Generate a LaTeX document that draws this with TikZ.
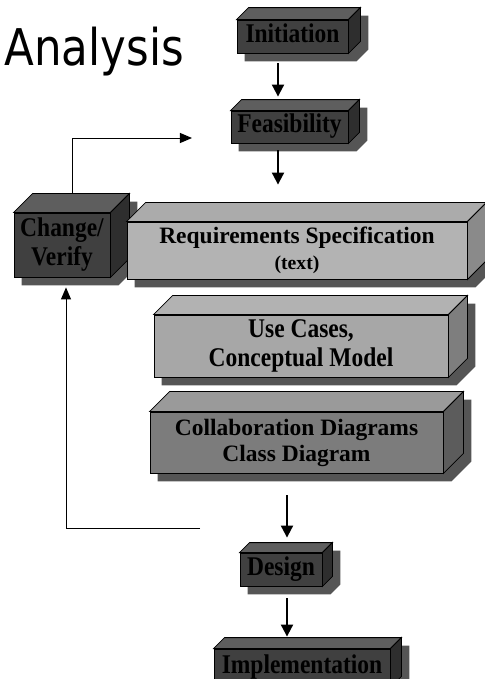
\documentclass[tikz,border=0pt]{standalone}
\usepackage{fontspec}
\setmainfont{Liberation Serif}
\newfontfamily\titlefont{DejaVu Sans}
\usepackage{tikz}
\usetikzlibrary{arrows.meta,backgrounds}
\definecolor{darkfront}{HTML}{404040}
\definecolor{darktop}{HTML}{5E5E5E}
\definecolor{darkside}{HTML}{2E2E2E}
\definecolor{reqfront}{HTML}{B3B3B3}
\definecolor{reqtop}{HTML}{ABABAB}
\definecolor{reqside}{HTML}{8A8A8A}
\definecolor{ucfront}{HTML}{A7A7A7}
\definecolor{uctop}{HTML}{B2B2B2}
\definecolor{ucside}{HTML}{7E7E7E}
\definecolor{colfront}{HTML}{7C7C7C}
\definecolor{coltop}{HTML}{9A9A9A}
\definecolor{colside}{HTML}{5C5C5C}
\definecolor{shadowgray}{HTML}{555555}
\newcommand{\boxfont}{\bfseries\fontsize{16.7}{18.5}\selectfont}
\newcommand{\tall}[1]{\scalebox{1}[1.15]{\begin{tabular}{@{}c@{}}#1\end{tabular}}}
\newcommand{\solidbox}[4]{%
  \filldraw[fill=#3] (#1.north west) -- ++(#2,-#2) -- ([shift={(#2,-#2)}]#1.north east) -- (#1.north east) -- cycle;
  \filldraw[fill=#4] (#1.north east) -- ++(#2,-#2) -- ([shift={(#2,-#2)}]#1.south east) -- (#1.south east) -- cycle;
  \begin{scope}[on background layer]
    \fill[shadowgray] ([shift={(8,8)}]#1.north west) -- ++(#2,-#2) -- ([shift={(#2+8,8-#2)}]#1.north east)
      -- ([shift={(#2+8,8-#2)}]#1.south east) -- ([shift={(8,8)}]#1.south east) -- ([shift={(8,8)}]#1.south west) -- cycle;
  \end{scope}}
\tikzset{
  stage/.style={draw, line width=0.6pt, inner sep=0pt, align=center, font=\boxfont, text=black},
  flow/.style={-{Triangle[length=0.3cm,width=0.3cm]}, line width=1.4pt},
  loopback/.style={-{Triangle[length=0.3cm,width=0.25cm]}, line width=0.7pt}
}
\begin{document}
\begin{tikzpicture}[x=0.025cm,y=-0.025cm, line width=0.6pt]
    \useasboundingbox (0,0) rectangle (485,679);
    \clip (0,0) rectangle (485,679);
    \node[anchor=base west, inner sep=0pt] (title) at (4,65) {\titlefont\fontsize{36}{40}\selectfont\scalebox{0.86}[1]{Analysis}};
    % blocks
    \node[stage, fill=darkfront, minimum width=2.775cm, minimum height=0.825cm] (ini) at (292.5,36.5) {\tall{Initiation}};
    \solidbox{ini}{12}{darktop}{darkside}
    \node[stage, fill=darkfront, minimum width=2.925cm, minimum height=0.8cm] (feas) at (289.5,127) {\tall{Feasibility}};
    \solidbox{feas}{11}{darktop}{darkside}
    \node[stage, fill=darkfront, minimum width=2.4cm, minimum height=1.6cm] (chg) at (62,245) {\tall{Change/\\Verify}};
    \solidbox{chg}{19}{darktop}{darkside}
    \node[stage, fill=reqfront, minimum width=8.5cm, minimum height=1.425cm] (req) at (297,250.5) {Requirements Specification\\{\fontsize{14}{16}\selectfont(text)}};
    \solidbox{req}{19}{reqtop}{reqside}
    \node[stage, fill=ucfront, minimum width=7.35cm, minimum height=1.55cm] (uc) at (301,346) {\tall{Use Cases,\\Conceptual Model}};
    \solidbox{uc}{19}{uctop}{ucside}
    \node[stage, fill=colfront, minimum width=7.325cm, minimum height=1.525cm] (collab) at (296.5,442.5) {Collaboration Diagrams\\Class Diagram};
    \solidbox{collab}{20}{coltop}{colside}
    \node[stage, fill=darkfront, minimum width=2.05cm, minimum height=0.825cm] (des) at (281,569.5) {\tall{Design}};
    \solidbox{des}{10}{darktop}{darkside}
    \node[stage, fill=darkfront, minimum width=4.4cm, minimum height=0.95cm] (impl) at (302,668) {\tall{Implementation}};
    \solidbox{impl}{11}{darktop}{darkside}
    % flow arrows
    \draw[flow] ([shift={(-14.5,10)}]ini.south) -- ([shift={(-11.5,-14)}]feas.north);
    \draw[flow] ([shift={(-11.5,7)}]feas.south) -- ([shift={(-19,-37)}]req.north);
    \draw[flow] ([shift={(-9.5,22)}]collab.south) -- ([shift={(6,-15)}]des.north);
    \draw[flow] ([shift={(6,12)}]des.south) -- ([shift={(-15,-12)}]impl.north);
    % feedback loop
    \coordinate (fbtop) at (192,138);
    \coordinate (fbbot) at (200,528);
    \draw[loopback] ([shift={(10,-20)}]chg.north) |- (fbtop);
    \draw[loopback] (fbbot) -| ([shift={(4,10)}]chg.south);
\end{tikzpicture}
\end{document}
